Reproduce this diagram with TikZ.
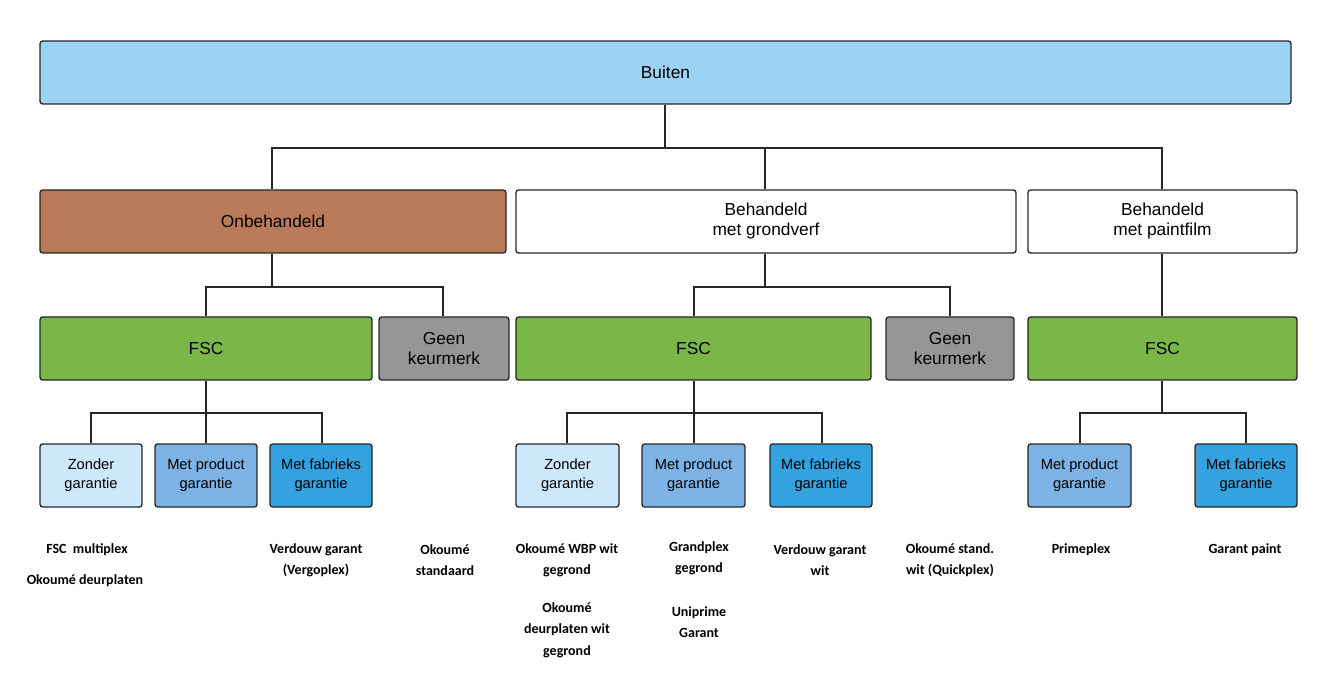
\documentclass[tikz,border=0pt]{standalone}
\usepackage{fontspec}
\setmainfont{Liberation Sans}
\newfontfamily\lbl{Carlito}
\definecolor{cBuiten}{RGB}{157,211,242}
\definecolor{cBrown}{RGB}{185,122,89}
\definecolor{cGreen}{RGB}{122,183,72}
\definecolor{cGray}{RGB}{150,150,150}
\definecolor{cL}{RGB}{205,232,250}
\definecolor{cM}{RGB}{125,178,228}
\definecolor{cD}{RGB}{52,162,222}
\begin{document}
\begin{tikzpicture}[x=0.75pt,y=-0.75pt,
  box/.style={draw=black!85,line width=1pt,rounded corners=2pt,align=center,inner sep=0pt},
  big/.style={box,font=\fontsize{13}{15}\selectfont},
  sm/.style={box,font=\fontsize{11}{14}\selectfont},
  lab/.style={font=\lbl\bfseries\fontsize{10.5}{16}\selectfont,align=center},
  con/.style={line width=1.2pt,black!85}]
\useasboundingbox (0,0) rectangle (1317,691);
\newcommand{\bx}[7]{\node[#1,fill=#2,minimum width={(#5-#4)*0.75pt},minimum height={(#7-#6)*0.75pt}] (#3) at ({(#4+#5)/2},{(#6+#7)/2}) {};}
\bx{big}{cBuiten}{b}{40}{1291}{41}{104}
\node[big,draw=none] at (b) {Buiten};
\bx{big}{cBrown}{on}{40}{506}{190}{253}
\node[big,draw=none] at (on) {Onbehandeld};
\bx{big}{white}{gv}{516}{1016}{190}{253}
\node[big,draw=none] at (gv) {Behandeld\\met grondverf};
\bx{big}{white}{pf}{1028}{1297}{190}{253}
\node[big,draw=none] at (pf) {Behandeld\\met paintfilm};
\bx{big}{cGreen}{f1}{40}{372}{317}{380}
\node[big,draw=none] at (f1) {FSC};
\bx{big}{cGray}{g1}{379}{509}{317}{380}
\node[big,draw=none] at (g1) {Geen\\keurmerk};
\bx{big}{cGreen}{f2}{516}{871}{317}{380}
\node[big,draw=none] at (f2) {FSC};
\bx{big}{cGray}{g2}{886}{1014}{317}{380}
\node[big,draw=none] at (g2) {Geen\\keurmerk};
\bx{big}{cGreen}{f3}{1028}{1297}{317}{380}
\node[big,draw=none] at (f3) {FSC};
\bx{sm}{cL}{z1}{40}{142}{444}{507}
\node[sm,draw=none] at (z1) {Zonder\\garantie};
\bx{sm}{cM}{p1}{155}{257}{444}{507}
\node[sm,draw=none] at (p1) {Met product\\garantie};
\bx{sm}{cD}{m1}{270}{372}{444}{507}
\node[sm,draw=none] at (m1) {Met fabrieks\\garantie};
\bx{sm}{cL}{z2}{516}{619}{444}{507}
\node[sm,draw=none] at (z2) {Zonder\\garantie};
\bx{sm}{cM}{p2}{642}{745}{444}{507}
\node[sm,draw=none] at (p2) {Met product\\garantie};
\bx{sm}{cD}{m2}{770}{872}{444}{507}
\node[sm,draw=none] at (m2) {Met fabrieks\\garantie};
\bx{sm}{cM}{p3}{1028}{1131}{444}{507}
\node[sm,draw=none] at (p3) {Met product\\garantie};
\bx{sm}{cD}{m3}{1195}{1297}{444}{507}
\node[sm,draw=none] at (m3) {Met fabrieks\\garantie};
% connectors
\draw[con] (b.south -| 665,0) -- (665,148) -| (on.north -| 272,0);
\draw[con] (665,148) -| (gv.north -| 765,0);
\draw[con] (665,148) -| (pf.north -| 1162,0);
\draw[con] (on.south -| 272,0) -- (272,287) -| (f1.north -| 206,0);
\draw[con] (272,287) -| (g1.north -| 443,0);
\draw[con] (gv.south -| 765,0) -- (765,287) -| (f2.north -| 694,0);
\draw[con] (765,287) -| (g2.north -| 950,0);
\draw[con] (pf.south -| 1162,0) -- (f3.north -| 1162,0);
\draw[con] (f1.south -| 206,0) -- (206,413) -| (z1.north -| 91,0);
\draw[con] (206,413) -- (p1.north -| 206,0);
\draw[con] (206,413) -| (m1.north -| 322,0);
\draw[con] (f2.south -| 694,0) -- (694,413) -| (z2.north -| 567,0);
\draw[con] (694,413) -- (p2.north -| 694,0);
\draw[con] (694,413) -| (m2.north -| 822,0);
\draw[con] (f3.south -| 1162,0) -- (1162,413) -| (p3.north -| 1080,0);
\draw[con] (1162,413) -| (m3.north -| 1246,0);
% labels
\node[lab] (l1) at (87,550) {FSC\ \ multiplex};
\node[lab] (l2) at (85,581) {Okoumé deurplaten};
\node[lab] (l3) at (316,560) {Verdouw garant\\(Vergoplex)};
\node[lab] (l4) at (445,560) {Okoumé\\standaard};
\node[lab] (l5) at (567,560) {Okoumé WBP wit\\gegrond};
\node[lab] (l6) at (567,630) {Okoumé\\deurplaten wit\\gegrond};
\node[lab] (l7) at (699,558) {Grandplex\\gegrond};
\node[lab] (l8) at (699,622) {Uniprime\\Garant};
\node[lab] (l9) at (820,560) {Verdouw garant\\wit};
\node[lab] (l10) at (950,560) {Okoumé stand.\\wit (Quickplex)};
\node[lab] (l11) at (1081,550) {Primeplex};
\node[lab] (l12) at (1245,550) {Garant paint};
\end{tikzpicture}
\end{document}
